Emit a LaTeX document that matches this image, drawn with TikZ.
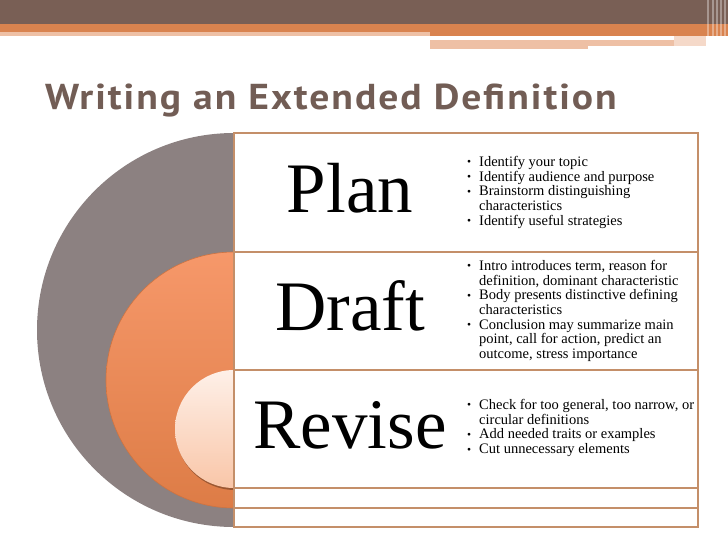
\documentclass[tikz,border=0pt]{standalone}
\usepackage{fontspec}
\setmainfont{Liberation Serif}
\newfontfamily\titlefont{PT Sans}[LetterSpace=5]
\usepackage{tikz}
\usetikzlibrary{positioning}
\definecolor{barbrown}{RGB}{121,95,85}
\definecolor{barorange}{RGB}{217,131,79}
\definecolor{barlight}{RGB}{238,192,165}
\definecolor{titlebrown}{RGB}{114,93,85}
\definecolor{circgray}{RGB}{140,129,129}
\definecolor{boxedge}{RGB}{196,143,105}
\newcommand\Itm{\makebox[12pt][l]{\raisebox{0.5pt}{\fontsize{11.5}{11.5}\selectfont\textbullet}}}
\newcommand\Cnt{\hspace*{12pt}}

\begin{document}
\begin{tikzpicture}[x=1pt, y=-1pt]
	\useasboundingbox (0,0) rectangle (728,546);

	\newcommand\CenterX{234}
	\newcommand\RightX{698}
	\begin{scope}[
			box/.style={draw=boxedge, line width=1.5pt, fill=white},
			label/.style={anchor=base, inner sep=0pt, font=\fontsize{71}{71}\selectfont},
			pts/.style={anchor=north west, align=left, inner sep=0pt, font=\fontsize{14.5}{14.7}\selectfont}
			]

		% top bar
		\fill[barbrown] (0,0) rectangle (728,24);
		\fill[barorange] (0,24) rectangle (728,32);
		\fill[barlight] (0,32) rectangle (430,36);
		\fill[barorange] (430,32) rectangle (728,36);
		\fill[barlight] (430,40) rectangle (674,46);
		\fill[barlight] (430,46) rectangle (588,49);
		\fill[barlight!60] (674,36) rectangle (706,46);
		\foreach \x in {707,712,716,720,724} {
			\fill[white, opacity=0.35] (\x,0) rectangle (\x+1.5,50);
		}

		\node[anchor=base west, inner sep=0pt, text=titlebrown,
			font=\titlefont\bfseries\fontsize{36}{36}\selectfont] (title) at (45,109) {\scalebox{1.1}[1]{Writing an Extended Definition}};

		% nested half circles
		\fill[circgray] (\CenterX,330) circle[radius=197];
		\shade[top color={rgb,255:red,246;green,152;blue,106}, bottom color={rgb,255:red,221;green,124;blue,70},
			draw={rgb,255:red,205;green,115;blue,65}, line width=0.6pt] (\CenterX,380) circle[radius=128];
		\fill[black, opacity=0.3] (\CenterX+1,431) circle[radius=59];
		\shade[top color={rgb,255:red,254;green,240;blue,232}, bottom color={rgb,255:red,249;green,198;blue,168}]
			(\CenterX,429) circle[radius=59];

		\foreach \top/\bot in {133/252, 252/370, 370/488, 488/508, 508/527} {
			\draw[box] (\CenterX,\top) rectangle (\RightX,\bot);
		}

		\foreach \name/\y/\txt in {plan/212/Plan, draft/330/Draft, revise/448/Revise} {
			\node[label] (\name) at (350,\y) {\txt};
		}

		\node[pts] (planpts) at (467,156) {\Itm Identify your topic\\
			\Itm Identify audience and purpose\\
			\Itm Brainstorm distinguishing\\
			\Cnt characteristics\\
			\Itm Identify useful strategies};
		\node[pts] (draftpts) at (467,260) {\Itm Intro introduces term, reason for\\
			\Cnt definition, dominant characteristic\\
			\Itm Body presents distinctive defining\\
			\Cnt characteristics\\
			\Itm Conclusion may summarize main\\
			\Cnt point, call for action, predict an\\
			\Cnt outcome, stress importance};
		\node[pts] (revisepts) at (467,399) {\Itm Check for too general, too narrow, or\\
			\Cnt circular definitions\\
			\Itm Add needed traits or examples\\
			\Itm Cut unnecessary elements};

	\end{scope}

\end{tikzpicture}
\end{document}
